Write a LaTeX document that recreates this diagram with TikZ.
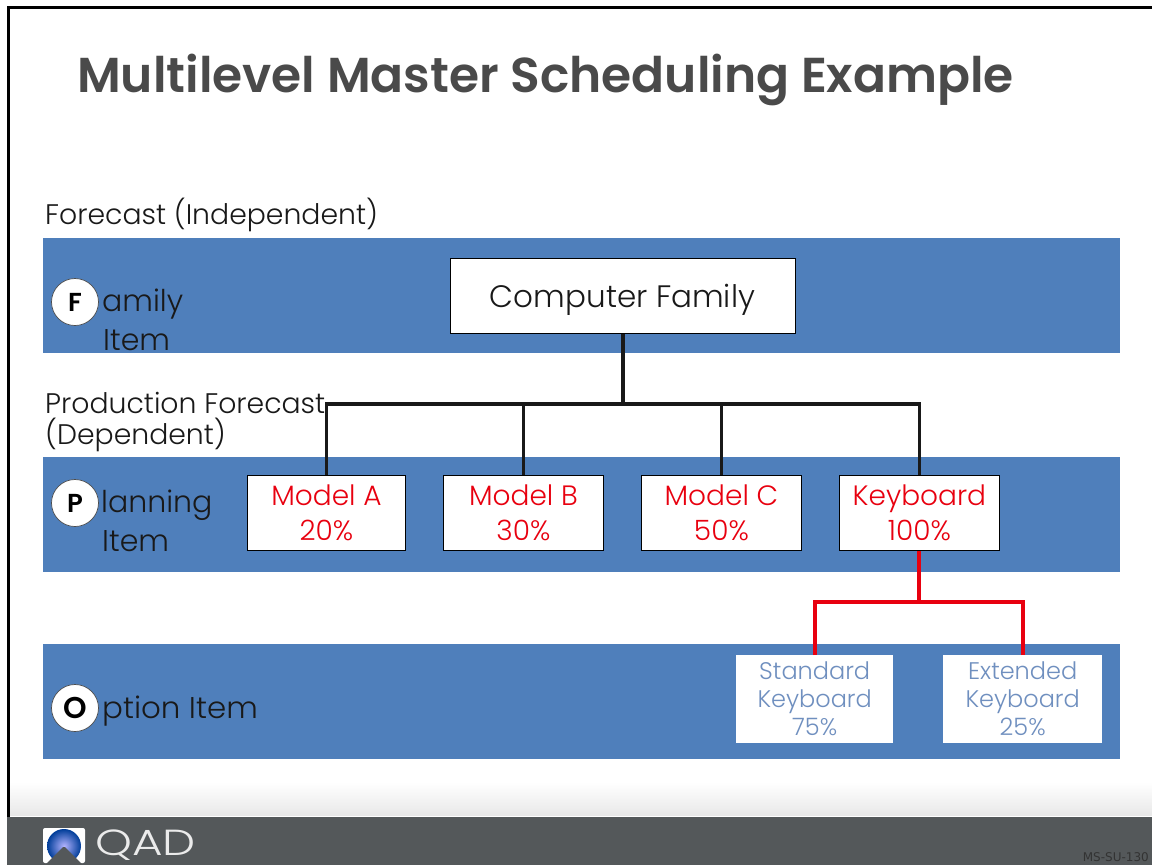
\documentclass[tikz,border=0pt]{standalone}
\usepackage{fontspec}
\setmainfont{Poppins}[UprightFont=* Light,BoldFont=* SemiBold]
\newfontfamily\dejacond{DejaVu Sans}
\definecolor{band}{HTML}{4F7FBB}
\definecolor{foot}{HTML}{54585A}
\definecolor{ttl}{HTML}{4A4A4A}
\definecolor{opt}{HTML}{6F8FBF}
\definecolor{rd}{HTML}{E8000F}
\tikzset{
 x=1pt,y=-1pt,
 bandbox/.style={fill=band,draw=none},
 whitebox/.style={draw=black,line width=0.8pt,fill=white,inner sep=0,align=center,anchor=north west},
 optbox/.style={draw=none,fill=white,inner sep=0,align=center,anchor=north west,text=opt,font=\fontsize{24}{28}\selectfont},
 modeltext/.style={text=rd,font=\fontsize{28}{35}\selectfont},
 lbl/.style={anchor=west,inner sep=0,text=black!90,font=\fontsize{28.3}{32}\selectfont},
 bandlbl/.style={anchor=west,inner sep=0,text=black!90,font=\fontsize{30}{38}\selectfont},
 badge/.style={circle,draw=black!70,line width=0.7pt,fill=white,minimum size=47pt,inner sep=0,font=\fontsize{26}{26}\selectfont\bfseries},
 blk/.style={draw=black!90,line width=3.5pt},
 red/.style={draw=rd,line width=4pt},
}
\begin{document}
\begin{tikzpicture}
\useasboundingbox (0,0) rectangle (1152,865);
\fill[white] (0,0) rectangle (1152,865);
\shade[top color=white,bottom color=black!9] (10,782) rectangle (1152,815);
\fill[foot] (7,817) rectangle (1152,865);
\fill[black] (7,5.5) rectangle (1152,8.5);
\fill[black] (7,5.5) rectangle (10,817);
% title
\node[anchor=west,inner sep=0,text=ttl] (title) at (77,80) {\fontsize{49}{56}\selectfont\bfseries\scalebox{0.994}[1]{Multilevel Master Scheduling Example}};
% bands
\fill[bandbox] (43,238) rectangle (1120,353);
\fill[bandbox] (43,457) rectangle (1120,572);
\fill[bandbox] (43,644) rectangle (1120,759);
% labels
\node[lbl] (l1) at (45,215) {Forecast (Independent)};
\node[lbl] (l2) at (45,403) {Production Forecast};
\node[lbl] (l3) at (45,435) {(Dependent)};
\node[bandlbl] (f1) at (102,304) {amily};
\node[bandlbl] (f2) at (103,340) {Item};
\node[bandlbl] (p1) at (101,505) {lanning};
\node[bandlbl] (p2) at (102,541) {Item};
\node[bandlbl] (o1) at (102,711) {\scalebox{1.03}[1]{ption Item}};
\node[badge] (bf) at (75,302) {F};
\node[badge] (bp) at (75,503) {P};
\node[badge,font=\fontsize{30}{30}\selectfont\bfseries] (bo) at (75,708) {O};
% boxes
\node[whitebox,minimum width=345pt,minimum height=75pt,text=black!90] (fam) at (450,258) {};
\node[font=\fontsize{31}{36}\selectfont,text=black!90,inner sep=0] (famt) at (622.5,300) {Computer Family};
\node[whitebox,minimum width=158pt,minimum height=75pt,modeltext] (ma) at (247,475) {Model A\\20\%};
\node[whitebox,minimum width=160pt,minimum height=75pt,modeltext] (mb) at (443,475) {Model B\\30\%};
\node[whitebox,minimum width=160pt,minimum height=75pt,modeltext] (mc) at (641,475) {Model C\\50\%};
\node[whitebox,minimum width=160pt,minimum height=75pt,modeltext] (kb) at (839,475) {Keyboard\\100\%};
\node[optbox,minimum width=157pt,minimum height=88pt] (sk) at (736,655) {Standard\\Keyboard\\75\%};
\node[optbox,minimum width=159pt,minimum height=88pt] (ek) at (943,655) {Extended\\Keyboard\\25\%};
% connectors
\coordinate (j1) at (fam.south |- 0,404);
\coordinate (j2) at (kb.south |- 0,602);
\draw[blk] (fam.south) -- (j1);
\draw[blk] (ma.north) |- (j1);
\draw[blk] (mb.north) |- (j1);
\draw[blk] (mc.north) |- (j1);
\draw[blk] (kb.north) |- (j1);
\draw[red] (kb.south) -- (j2);
\draw[red] (sk.north) |- (j2);
\draw[red] (ek.north) |- (j2);
% footer
\fill[white,rounded corners=2pt] (43,828) rectangle (85,863);
\begin{scope}
\clip (43,828) rectangle (85,865);
\shade[inner color=blue!30!white,outer color=blue!60!cyan!60!black] (64,846) circle (17);
\fill[foot] (45,865) -- (63,847) -- (65,847) -- (83,865) -- cycle;
\end{scope}
\node[anchor=west,inner sep=0,text=white!92!black] (qad) at (95,845) {\fontsize{33}{33}\selectfont\scalebox{1.42}[1.1]{QAD}};
\node[anchor=east,inner sep=0,text=black!80] (code) at (1149,857) {\dejacond\fontsize{12}{12}\selectfont MS-SU-130};
\end{tikzpicture}
\end{document}
